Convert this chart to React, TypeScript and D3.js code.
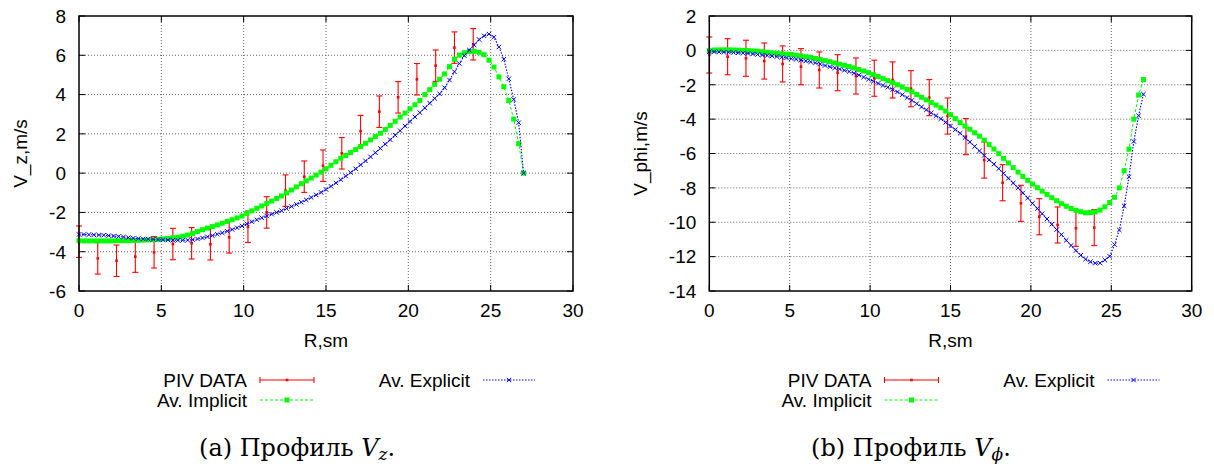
import React from 'react'
import * as d3 from 'd3'

// radius grid of the averaged solutions, sm
const R = [
  0, 0.3, 0.6, 0.9, 1.2, 1.5, 1.8, 2.1, 2.4, 2.7,
  3.0, 3.3, 3.6, 3.9, 4.2, 4.5, 4.8, 5.1, 5.4, 5.7,
  6.0, 6.3, 6.6, 6.9, 7.2, 7.5, 7.8, 8.1, 8.4, 8.7,
  9.0, 9.3, 9.6, 9.9, 10.2, 10.5, 10.8, 11.1, 11.4, 11.7,
  12.0, 12.3, 12.6, 12.9, 13.2, 13.5, 13.8, 14.1, 14.4, 14.7,
  15.0, 15.3, 15.6, 15.9, 16.2, 16.5, 16.8, 17.1, 17.4, 17.7,
  18.0, 18.3, 18.6, 18.9, 19.2, 19.5, 19.8, 20.1, 20.4, 20.7,
  21.0, 21.3, 21.6, 21.9, 22.2, 22.5, 22.8, 23.1, 23.4, 23.7,
  24.0, 24.3, 24.6, 24.9, 25.2, 25.5, 25.8, 26.1, 26.4, 26.7,
  27.0
]

const VZ_IMPLICIT = [
  -3.44, -3.45, -3.45, -3.45, -3.45, -3.45, -3.45, -3.45, -3.44, -3.44,
  -3.43, -3.43, -3.42, -3.41, -3.40, -3.39, -3.37, -3.35, -3.32, -3.29,
  -3.26, -3.21, -3.15, -3.07, -2.97, -2.88, -2.80, -2.72, -2.64, -2.55,
  -2.46, -2.37, -2.28, -2.18, -2.05, -1.92, -1.79, -1.67, -1.55, -1.42,
  -1.29, -1.16, -1.01, -0.86, -0.70, -0.54, -0.39, -0.25, -0.10, 0.05,
  0.22, 0.40, 0.58, 0.76, 0.90, 1.05, 1.20, 1.36, 1.52, 1.69,
  1.86, 2.03, 2.22, 2.43, 2.64, 2.86, 3.06, 3.27, 3.48, 3.70,
  4.00, 4.25, 4.52, 4.78, 5.05, 5.42, 5.80, 6.01, 6.13, 6.19,
  6.20, 6.15, 6.03, 5.75, 5.40, 4.90, 4.40, 3.70, 2.75, 1.50,
  0.0
]

const VZ_EXPLICIT = [
  -3.12, -3.12, -3.13, -3.14, -3.15, -3.16, -3.18, -3.20, -3.22, -3.25,
  -3.28, -3.31, -3.33, -3.35, -3.36, -3.37, -3.38, -3.39, -3.40, -3.41,
  -3.42, -3.42, -3.41, -3.39, -3.35, -3.30, -3.24, -3.18, -3.11, -3.04,
  -2.96, -2.87, -2.78, -2.69, -2.58, -2.47, -2.37, -2.27, -2.18, -2.09,
  -2.00, -1.91, -1.80, -1.70, -1.59, -1.48, -1.36, -1.24, -1.11, -0.98,
  -0.83, -0.67, -0.50, -0.33, -0.15, 0.03, 0.22, 0.42, 0.62, 0.83,
  1.04, 1.26, 1.48, 1.70, 1.93, 2.16, 2.40, 2.63, 2.86, 3.08,
  3.32, 3.56, 3.80, 4.04, 4.35, 4.74, 5.16, 5.58, 5.98, 6.27,
  6.52, 6.80, 6.99, 7.08, 6.92, 6.42, 5.80, 4.80, 3.75, 2.57,
  0.0
]

const VPHI_IMPLICIT = [
  -0.02, 0.02, 0.03, 0.03, 0.03, 0.02, 0.01, 0.0, -0.01, -0.03,
  -0.05, -0.08, -0.11, -0.15, -0.18, -0.20, -0.22, -0.24, -0.28, -0.32,
  -0.37, -0.41, -0.47, -0.53, -0.59, -0.66, -0.73, -0.80, -0.87, -0.94,
  -1.02, -1.11, -1.20, -1.30, -1.41, -1.52, -1.64, -1.76, -1.88, -2.00,
  -2.13, -2.27, -2.41, -2.57, -2.73, -2.88, -3.03, -3.18, -3.34, -3.53,
  -3.74, -3.97, -4.20, -4.40, -4.59, -4.79, -4.99, -5.22, -5.48, -5.74,
  -6.01, -6.28, -6.55, -6.82, -7.08, -7.33, -7.56, -7.78, -7.99, -8.19,
  -8.38, -8.57, -8.75, -8.92, -9.07, -9.20, -9.31, -9.39, -9.45, -9.44,
  -9.40, -9.29, -9.10, -8.85, -8.55, -8.00, -7.00, -5.75, -4.00, -2.60,
  -1.70
]

const VPHI_EXPLICIT = [
  -0.08, -0.08, -0.09, -0.10, -0.11, -0.12, -0.14, -0.16, -0.18, -0.21,
  -0.24, -0.27, -0.30, -0.33, -0.36, -0.40, -0.44, -0.48, -0.52, -0.57,
  -0.62, -0.67, -0.73, -0.80, -0.88, -0.95, -1.02, -1.09, -1.16, -1.23,
  -1.33, -1.44, -1.56, -1.68, -1.80, -1.92, -2.04, -2.15, -2.28, -2.42,
  -2.58, -2.75, -2.91, -3.10, -3.29, -3.46, -3.63, -3.80, -3.98, -4.19,
  -4.40, -4.61, -4.82, -5.08, -5.33, -5.59, -5.85, -6.11, -6.37, -6.62,
  -6.88, -7.16, -7.44, -7.72, -8.00, -8.29, -8.59, -8.90, -9.20, -9.50,
  -9.81, -10.12, -10.43, -10.72, -11.05, -11.35, -11.65, -11.92, -12.15, -12.30,
  -12.38, -12.38, -12.20, -11.98, -11.30, -10.45, -9.05, -7.35, -5.30, -3.80,
  -2.55
]

// PIV measurements
const PIV_R = [0, 1.14, 2.28, 3.42, 4.56, 5.7, 6.84, 7.98, 9.12, 10.26, 11.4, 12.54, 13.68, 14.82, 15.96, 17.1, 18.24, 19.38, 20.52, 21.66, 22.8, 23.94]
const VZ_PIV = [-3.49, -4.34, -4.46, -4.25, -4.03, -3.61, -3.57, -3.62, -3.27, -2.73, -2.0, -0.89, -0.18, 0.38, 1.01, 2.14, 3.13, 3.86, 4.78, 5.47, 6.39, 6.56]
const VZ_ERR = [0.8, 0.8, 0.8, 0.8, 0.8, 0.8, 0.8, 0.8, 0.8, 0.8, 0.8, 0.8, 0.8, 0.8, 0.8, 0.8, 0.8, 0.8, 0.8, 0.8, 0.8, 0.8]
const VPHI_PIV = [-0.27, -0.37, -0.46, -0.62, -0.79, -0.95, -1.14, -1.30, -1.49, -1.62, -1.72, -2.23, -2.75, -3.82, -5.02, -6.38, -7.7, -8.9, -9.68, -10.16, -10.35, -10.31]
const VPHI_ERR = [1.05, 1.05, 1.05, 1.05, 1.05, 1.05, 1.05, 1.05, 1.05, 1.05, 1.05, 1.05, 1.05, 1.05, 1.05, 1.05, 1.05, 1.05, 1.05, 1.05, 1.05, 1.05]

const X_TICKS = [0, 5, 10, 15, 20, 25, 30]
const VZ_TICKS = [-6, -4, -2, 0, 2, 4, 6, 8]
const VPHI_TICKS = [-14, -12, -10, -8, -6, -4, -2, 0, 2]

const LEGEND = ['PIV DATA', 'Av. Implicit', 'Av. Explicit']

const SANS = 'Liberation Sans, Arial, Helvetica, sans-serif'
const SERIF = 'DejaVu Serif, Liberation Serif, serif'
const FS = 19

function cross (cx, cy, s) {
  return `M${cx - s},${cy - s}L${cx + s},${cy + s}M${cx - s},${cy + s}L${cx + s},${cy - s}`
}

function Panel (props) {
  const { left, right, top, bottom, yDomain, yTicks, yLabel, yLabelX, piv, err, imp, exp, captionX, captionLetter, sub } = props
  const x = d3.scaleLinear().domain([0, 30]).range([left, right])
  const y = d3.scaleLinear().domain(yDomain).range([bottom, top])
  const line = d3.line().x((d, i) => x(R[i])).y(d => y(d))
  const cx = (left + right) / 2
  const tick = 6
  return <g>
    {/* grid */}
    {X_TICKS.slice(1, -1).map(v =>
      <line key={'gx' + v} x1={x(v)} x2={x(v)} y1={top} y2={bottom} stroke='#555' strokeWidth={0.9} strokeDasharray='1,2' />)}
    {yTicks.slice(1, -1).map(v =>
      <line key={'gy' + v} x1={left} x2={right} y1={y(v)} y2={y(v)} stroke='#555' strokeWidth={0.9} strokeDasharray='1,2' />)}
    {/* ticks, mirrored */}
    {X_TICKS.map(v => <g key={'tx' + v}>
      <line x1={x(v)} x2={x(v)} y1={bottom} y2={bottom - tick} stroke='#000' />
      <line x1={x(v)} x2={x(v)} y1={top} y2={top + tick} stroke='#000' />
      <text x={x(v)} y={317} textAnchor='middle' fontSize={FS} fontFamily={SANS}>{v}</text>
    </g>)}
    {yTicks.map(v => <g key={'ty' + v}>
      <line x1={left} x2={left + tick} y1={y(v)} y2={y(v)} stroke='#000' />
      <line x1={right} x2={right - tick} y1={y(v)} y2={y(v)} stroke='#000' />
      <text x={left - 13} y={y(v) + 6.8} textAnchor='end' fontSize={FS} fontFamily={SANS}>{v}</text>
    </g>)}
    {/* PIV error bars */}
    {PIV_R.map((r, i) => {
      const px = x(r)
      const y1 = y(piv[i] + err[i])
      const y2 = y(piv[i] - err[i])
      return <g key={'p' + i} stroke='#ff0000' strokeWidth={1.1}>
        <line x1={px} x2={px} y1={y1} y2={y2} />
        <line x1={px - 3} x2={px + 3} y1={y1} y2={y1} />
        <line x1={px - 3} x2={px + 3} y1={y2} y2={y2} />
        <rect x={px - 1.3} y={y(piv[i]) - 1.3} width={2.6} height={2.6} fill='#ff0000' stroke='none' />
      </g>
    })}
    {/* implicit */}
    <path d={line(imp)} fill='none' stroke='#00ff00' strokeWidth={1} strokeDasharray='3,2' />
    {imp.map((v, i) => <rect key={'i' + i} x={x(R[i]) - 2.5} y={y(v) - 2.5} width={5} height={5} fill='#00ff00' />)}
    {/* explicit */}
    <path d={line(exp)} fill='none' stroke='#0000ff' strokeWidth={1.1} strokeDasharray='1.5,1.5' />
    <path d={exp.map((v, i) => cross(x(R[i]), y(v), 2.2)).join('')} fill='none' stroke='#0000ff' strokeWidth={1} />
    {/* border */}
    <rect x={left} y={top} width={right - left} height={bottom - top} fill='none' stroke='#000' strokeWidth={1.5} />
    {/* axis labels */}
    <text transform={`translate(${yLabelX},${(top + bottom) / 2}) rotate(-90)`} textAnchor='middle' dominantBaseline='central' fontSize={FS} fontFamily={SANS}>{yLabel}</text>
    <text x={cx} y={347} textAnchor='middle' fontSize={FS} fontFamily={SANS}>R,sm</text>
    {/* legend */}
    <g fontSize={FS} fontFamily={SANS}>
      <text x={cx - 79} y={387} textAnchor='end'>{LEGEND[0]}</text>
      <g stroke='#ff0000' strokeWidth={1.1}>
        <line x1={cx - 66} x2={cx - 12} y1={380} y2={380} />
        <line x1={cx - 66} x2={cx - 66} y1={377} y2={383} />
        <line x1={cx - 12} x2={cx - 12} y1={377} y2={383} />
        <rect x={cx - 40.3} y={378.7} width={2.6} height={2.6} fill='#ff0000' stroke='none' />
      </g>
      <text x={cx - 79} y={407} textAnchor='end'>{LEGEND[1]}</text>
      <line x1={cx - 66} x2={cx - 12} y1={400} y2={400} stroke='#00ff00' strokeDasharray='3,2' />
      <rect x={cx - 41.5} y={397.5} width={5} height={5} fill='#00ff00' />
      <text x={cx + 144} y={387} textAnchor='end'>{LEGEND[2]}</text>
      <line x1={cx + 157} x2={cx + 209} y1={380} y2={380} stroke='#0000ff' strokeWidth={1.1} strokeDasharray='1.5,1.5' />
      <path d={cross(cx + 183, 380, 2.2)} stroke='#0000ff' fill='none' />
    </g>
    {/* caption */}
    <text x={captionX} y={456} fontSize={24} fontFamily={SERIF}>
      ({captionLetter}) Профиль <tspan fontStyle='italic'>V</tspan><tspan fontStyle='italic' fontSize={17} dy={4}>{sub}</tspan><tspan dy={-4}>.</tspan>
    </text>
  </g>
}

export default function App () {
  return <svg width={1214} height={466} style={{ position: 'absolute', left: 0, top: 0, background: '#fff' }}>
    <rect width={1214} height={466} fill='#fff' />
    <Panel left={79} right={573} top={16} bottom={291} yDomain={[-6, 8]} yTicks={VZ_TICKS}
      yLabel='V_z,m/s' yLabelX={20} piv={VZ_PIV} err={VZ_ERR} imp={VZ_IMPLICIT} exp={VZ_EXPLICIT}
      captionX={199} captionLetter='a' sub='z' />
    <Panel left={709.3} right={1191.7} top={16} bottom={291} yDomain={[-14, 2]} yTicks={VPHI_TICKS}
      yLabel='V_phi,m/s' yLabelX={640} piv={VPHI_PIV} err={VPHI_ERR} imp={VPHI_IMPLICIT} exp={VPHI_EXPLICIT}
      captionX={811} captionLetter='b' sub='ϕ' />
  </svg>
}
